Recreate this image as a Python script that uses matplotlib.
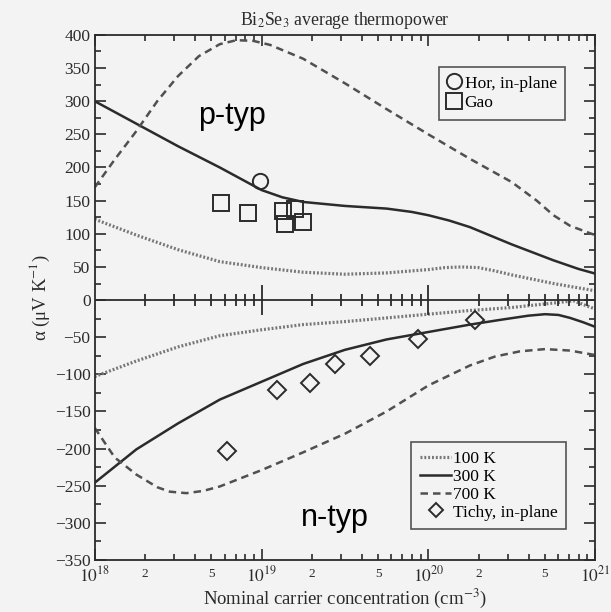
import numpy as np
import matplotlib
matplotlib.use("Agg")
import matplotlib.pyplot as plt
from matplotlib.lines import Line2D
from matplotlib.ticker import MultipleLocator, FuncFormatter, FixedLocator

plt.rcParams["font.family"] = ["Liberation Serif", "DejaVu Serif"]
plt.rcParams["mathtext.fontset"] = "stix"

# log10 of carrier concentration (cm^-3) and thermopower (uV/K)
p100_x = [18.0, 18.25, 18.5, 18.75, 19.0, 19.25, 19.5, 19.75, 20.0, 20.1, 20.2, 20.3, 20.4,
          20.5, 20.75, 21.0]
p100_y = [122, 98, 76, 58, 49, 42, 39, 41, 46, 49, 50, 49, 44, 38, 25, 14]

p300_x = [18.0, 18.125, 18.25, 18.375, 18.5, 18.625, 18.75, 18.875, 19.0, 19.125, 19.25, 19.5,
          19.75, 19.9, 20.0, 20.125, 20.25, 20.5, 20.75, 20.9, 21.0]
p300_y = [300, 283, 266, 249, 232, 216, 200, 183, 166, 155, 148, 142, 138, 133, 128, 120, 110,
          84, 60, 47, 40]

p700_x = [18.0, 18.12, 18.25, 18.375, 18.5, 18.625, 18.75, 18.85, 18.95, 19.05, 19.25, 19.5,
          19.75, 20.0, 20.25, 20.5, 20.65, 20.75, 20.85, 21.0]
p700_y = [170, 212, 255, 300, 338, 368, 386, 392, 391, 385, 364, 327, 288, 250, 213, 178, 150,
          128, 112, 98]

n100_x = [18.0, 18.25, 18.5, 18.75, 19.0, 19.25, 19.5, 19.75, 20.0, 20.25, 20.5, 20.75, 20.87, 21.0]
n100_y = [-103, -82, -63, -48, -40, -33, -29, -24, -19, -14, -10, -4, -1, -12]

n300_x = [18.0, 18.25, 18.5, 18.75, 19.0, 19.25, 19.5, 19.75, 20.0, 20.25, 20.45, 20.6, 20.7,
          20.78, 20.85, 20.93, 21.0]
n300_y = [-246, -201, -166, -134, -110, -86, -67, -53, -43, -33, -26, -21, -19, -20, -24, -30, -36]

n700_x = [18.0, 18.12, 18.25, 18.375, 18.45, 18.55, 18.65, 18.75, 18.875, 19.0, 19.25, 19.5,
          19.75, 20.0, 20.25, 20.4, 20.55, 20.7, 20.85, 21.0]
n700_y = [-172, -212, -235, -252, -258, -260, -257, -251, -240, -229, -205, -180, -150,
          -115, -88, -76, -69, -66, -68, -74]

hor_x = [9.8e18]
hor_y = [180]

gao_x = [5.7e18, 8.3e18, 1.35e19, 1.58e19, 1.38e19, 1.78e19]
gao_y = [147, 131, 134, 137, 115, 118]

tichy_x = [6.2e18, 1.23e19, 1.95e19, 2.75e19, 4.5e19, 8.7e19, 1.9e20]
tichy_y = [-203, -121, -112, -86, -75, -52, -27]

# the scanned figure stretches the negative half a bit
NEG = 1.12


def fwd(v):
    v = np.asarray(v, dtype=float)
    return np.where(v < 0, v * NEG, v)


def inv(u):
    u = np.asarray(u, dtype=float)
    return np.where(u < 0, u / NEG, u)


ink = "#2b2b2b"
bg = "#f3f3f3"

fig = plt.figure(figsize=(6.11, 6.12), dpi=100, facecolor=bg)
ax = fig.add_subplot(111, facecolor=bg)
fig.subplots_adjust(left=0.155, right=0.974, top=0.943, bottom=0.085)

ax.set_xscale("log")
ax.set_yscale("function", functions=(fwd, inv))

dot = dict(color="#777777", lw=2.3, ls=(0, (0.6, 0.6)))
sol = dict(color=ink, lw=1.8, ls="-")
dsh = dict(color="#505050", lw=1.8, ls=(0, (3, 2)))

ax.plot(10 ** np.array(p100_x), p100_y, **dot)
ax.plot(10 ** np.array(p300_x), p300_y, **sol)
ax.plot(10 ** np.array(p700_x), p700_y, **dsh)
ax.plot(10 ** np.array(n100_x), n100_y, **dot)
ax.plot(10 ** np.array(n300_x), n300_y, **sol)
ax.plot(10 ** np.array(n700_x), n700_y, **dsh)

mk = dict(ls="none", mfc="none", mec=ink, mew=1.4, ms=11)
ax.plot(hor_x, hor_y, marker="o", **mk)
ax.plot(gao_x, gao_y, marker="s", **mk)
ax.plot(tichy_x, tichy_y, marker="D", **dict(mk, ms=9))

# zero line with its own ticks
ax.axhline(0, color=ink, lw=1.3)
minor_pos = [m * 10.0 ** e for e in (18, 19, 20) for m in range(2, 10)]
ax.plot(minor_pos, np.zeros(len(minor_pos)), ls="none", marker="|", ms=9, mew=1.3, color=ink)
ax.plot([1e19, 1e20], [0, 0], ls="none", marker="|", ms=22, mew=1.3, color=ink)

ax.set_xlim(1e18, 1e21)
ax.set_ylim(-350, 400)

ax.yaxis.set_major_locator(MultipleLocator(50))
ax.yaxis.set_minor_locator(MultipleLocator(25))
ax.yaxis.set_major_formatter(FuncFormatter(lambda v, p: f"{int(round(v))}".replace("-", "\u2212")))

ax.xaxis.set_major_locator(FixedLocator([1e18, 1e19, 1e20, 1e21]))
ax.xaxis.set_major_formatter(FuncFormatter(lambda v, p: "$10^{%d}$" % round(np.log10(v))))
ax.xaxis.set_minor_locator(FixedLocator(minor_pos))


def minor_lab(v, p):
    m = v / 10 ** np.floor(np.log10(v) + 1e-9)
    m = int(round(m))
    return str(m) if m in (2, 5) else ""


ax.xaxis.set_minor_formatter(FuncFormatter(minor_lab))

ax.tick_params(which="both", direction="in", top=True, right=True, colors=ink, width=1.2)
ax.tick_params(which="major", length=8, labelsize=12.5, pad=3)
ax.tick_params(which="minor", length=4)
ax.tick_params(axis="x", which="minor", labelsize=9.5, pad=6)
ax.tick_params(axis="x", which="major", pad=4)
for s in ax.spines.values():
    s.set_color(ink)
    s.set_linewidth(1.3)

ax.set_title("Bi$_2$Se$_3$ average thermopower", fontsize=12.8, color=ink, pad=7)
ax.set_xlabel("Nominal carrier concentration (cm$^{-3}$)", fontsize=13.5, color=ink, labelpad=1)
ax.set_ylabel("α (μV K$^{-1}$)", fontsize=13.5, color=ink, labelpad=2)

ax.text(0.274, 0.845, "p-typ", transform=ax.transAxes, fontsize=22,
        family="Liberation Sans", ha="center", va="center", color="black")
ax.text(0.48, 0.08, "n-typ", transform=ax.transAxes, fontsize=22,
        family="Liberation Sans", ha="center", va="center", color="black")

h1 = [Line2D([], [], marker="o", **mk), Line2D([], [], marker="s", **mk)]
leg1 = ax.legend(h1, ["Hor, in-plane", "Gao"], loc="upper right", bbox_to_anchor=(0.958, 0.956),
                 fontsize=12.5, frameon=True, fancybox=False, edgecolor=ink, facecolor=bg,
                 handlelength=0.8, handletextpad=0.2, borderpad=0.5, labelspacing=0.2)
leg1.get_frame().set_linewidth(1.2)
ax.add_artist(leg1)

h2 = [Line2D([], [], **dot), Line2D([], [], **sol), Line2D([], [], **dsh),
      Line2D([], [], marker="D", **dict(mk, ms=7))]
leg2 = ax.legend(h2, ["100 K", "300 K", "700 K", "Tichy, in-plane"], loc="lower right",
                 bbox_to_anchor=(0.96, 0.042), fontsize=12.5, frameon=True, fancybox=False,
                 edgecolor=ink, facecolor=bg, handlelength=1.8, handletextpad=0.1,
                 borderpad=0.5, labelspacing=0.1)
leg2.get_frame().set_linewidth(1.2)

fig.savefig("out.png", dpi=100, facecolor=bg)
